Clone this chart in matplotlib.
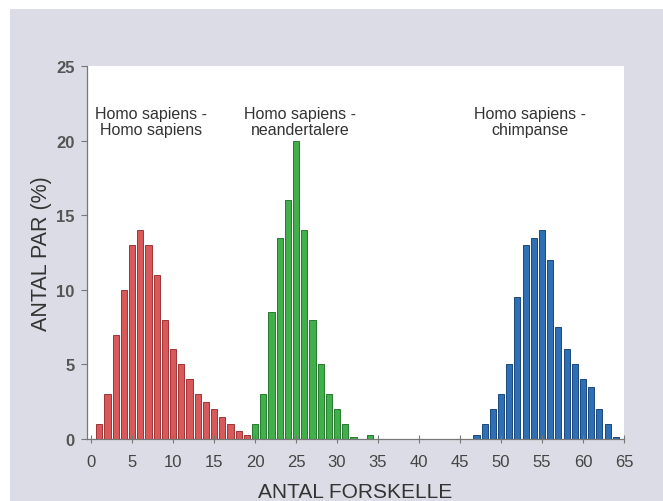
import matplotlib.pyplot as plt
import matplotlib.patches as patches

plt.rcParams['font.family'] = ['Liberation Sans', 'DejaVu Sans']

# andel par (%) for hvert antal forskelle
hs_x = list(range(1, 20))
hs_y = [1, 3, 7, 10, 13, 14, 13, 11, 8, 6, 5, 4, 3, 2.5, 2, 1.5, 1, 0.55, 0.3]

nd_x = [20, 21, 22, 23, 24, 25, 26, 27, 28, 29, 30, 31, 32, 34]
nd_y = [1, 3, 8.5, 13.5, 16, 20, 14, 8, 5, 3, 2, 1, 0.15, 0.3]

ch_x = list(range(47, 65))
ch_y = [0.3, 1, 2, 3, 5, 9.5, 13, 13.5, 14, 12, 7.5, 6, 5, 4, 3.5, 2, 1, 0.15]

labels = ["Homo sapiens -\nHomo sapiens", "Homo sapiens -\nneandertalere", "Homo sapiens -\nchimpanse"]
label_x = [7.3, 25.5, 53.5]

fig = plt.figure(figsize=(6.63, 5.02), dpi=100)
fig.patch.set_facecolor('white')
bg = patches.Rectangle((10 / 663, 0), 1, 1 - 10 / 502, transform=fig.transFigure,
                       facecolor='#dcdce6', edgecolor='none', zorder=-10)
fig.add_artist(bg)

ax = fig.add_axes([87 / 663, 62 / 502, 537 / 663, 373 / 502])
ax.set_facecolor('white')

ax.bar(hs_x, hs_y, width=0.75, color='#d9585a', edgecolor='#9e3436', linewidth=0.7)
ax.bar(nd_x, nd_y, width=0.75, color='#41b04a', edgecolor='#287a30', linewidth=0.7)
ax.bar(ch_x, ch_y, width=0.75, color='#2f6fb6', edgecolor='#1c477a', linewidth=0.7)

for x, t in zip(label_x, labels):
    ax.text(x, 21.3, t, ha='center', va='center', fontsize=11.5, color='#333333', linespacing=1.1)

ax.set_xlim(-0.5, 65)
ax.set_ylim(0, 25)
ax.set_xticks(range(0, 66, 5))
ax.set_yticks(range(0, 26, 5))

for s in ['top', 'right']:
    ax.spines[s].set_visible(False)
for s in ['left', 'bottom']:
    ax.spines[s].set_color('#777777')
    ax.spines[s].set_linewidth(0.9)

ax.tick_params(axis='x', direction='inout', length=6, color='#777777', labelsize=12,
               labelcolor='#444444', pad=8)
ax.tick_params(axis='y', direction='out', length=4, color='#777777', labelsize=12,
               labelcolor='#555555', pad=5)
for lab in ax.get_yticklabels():
    lab.set_fontweight('bold')

ax.set_xlabel('ANTAL FORSKELLE', fontsize=15, color='#333333', labelpad=9)
ax.set_ylabel('ANTAL PAR (%)', fontsize=15.5, color='#333333', labelpad=3)

plt.savefig('out.png', dpi=100, facecolor=fig.get_facecolor())
